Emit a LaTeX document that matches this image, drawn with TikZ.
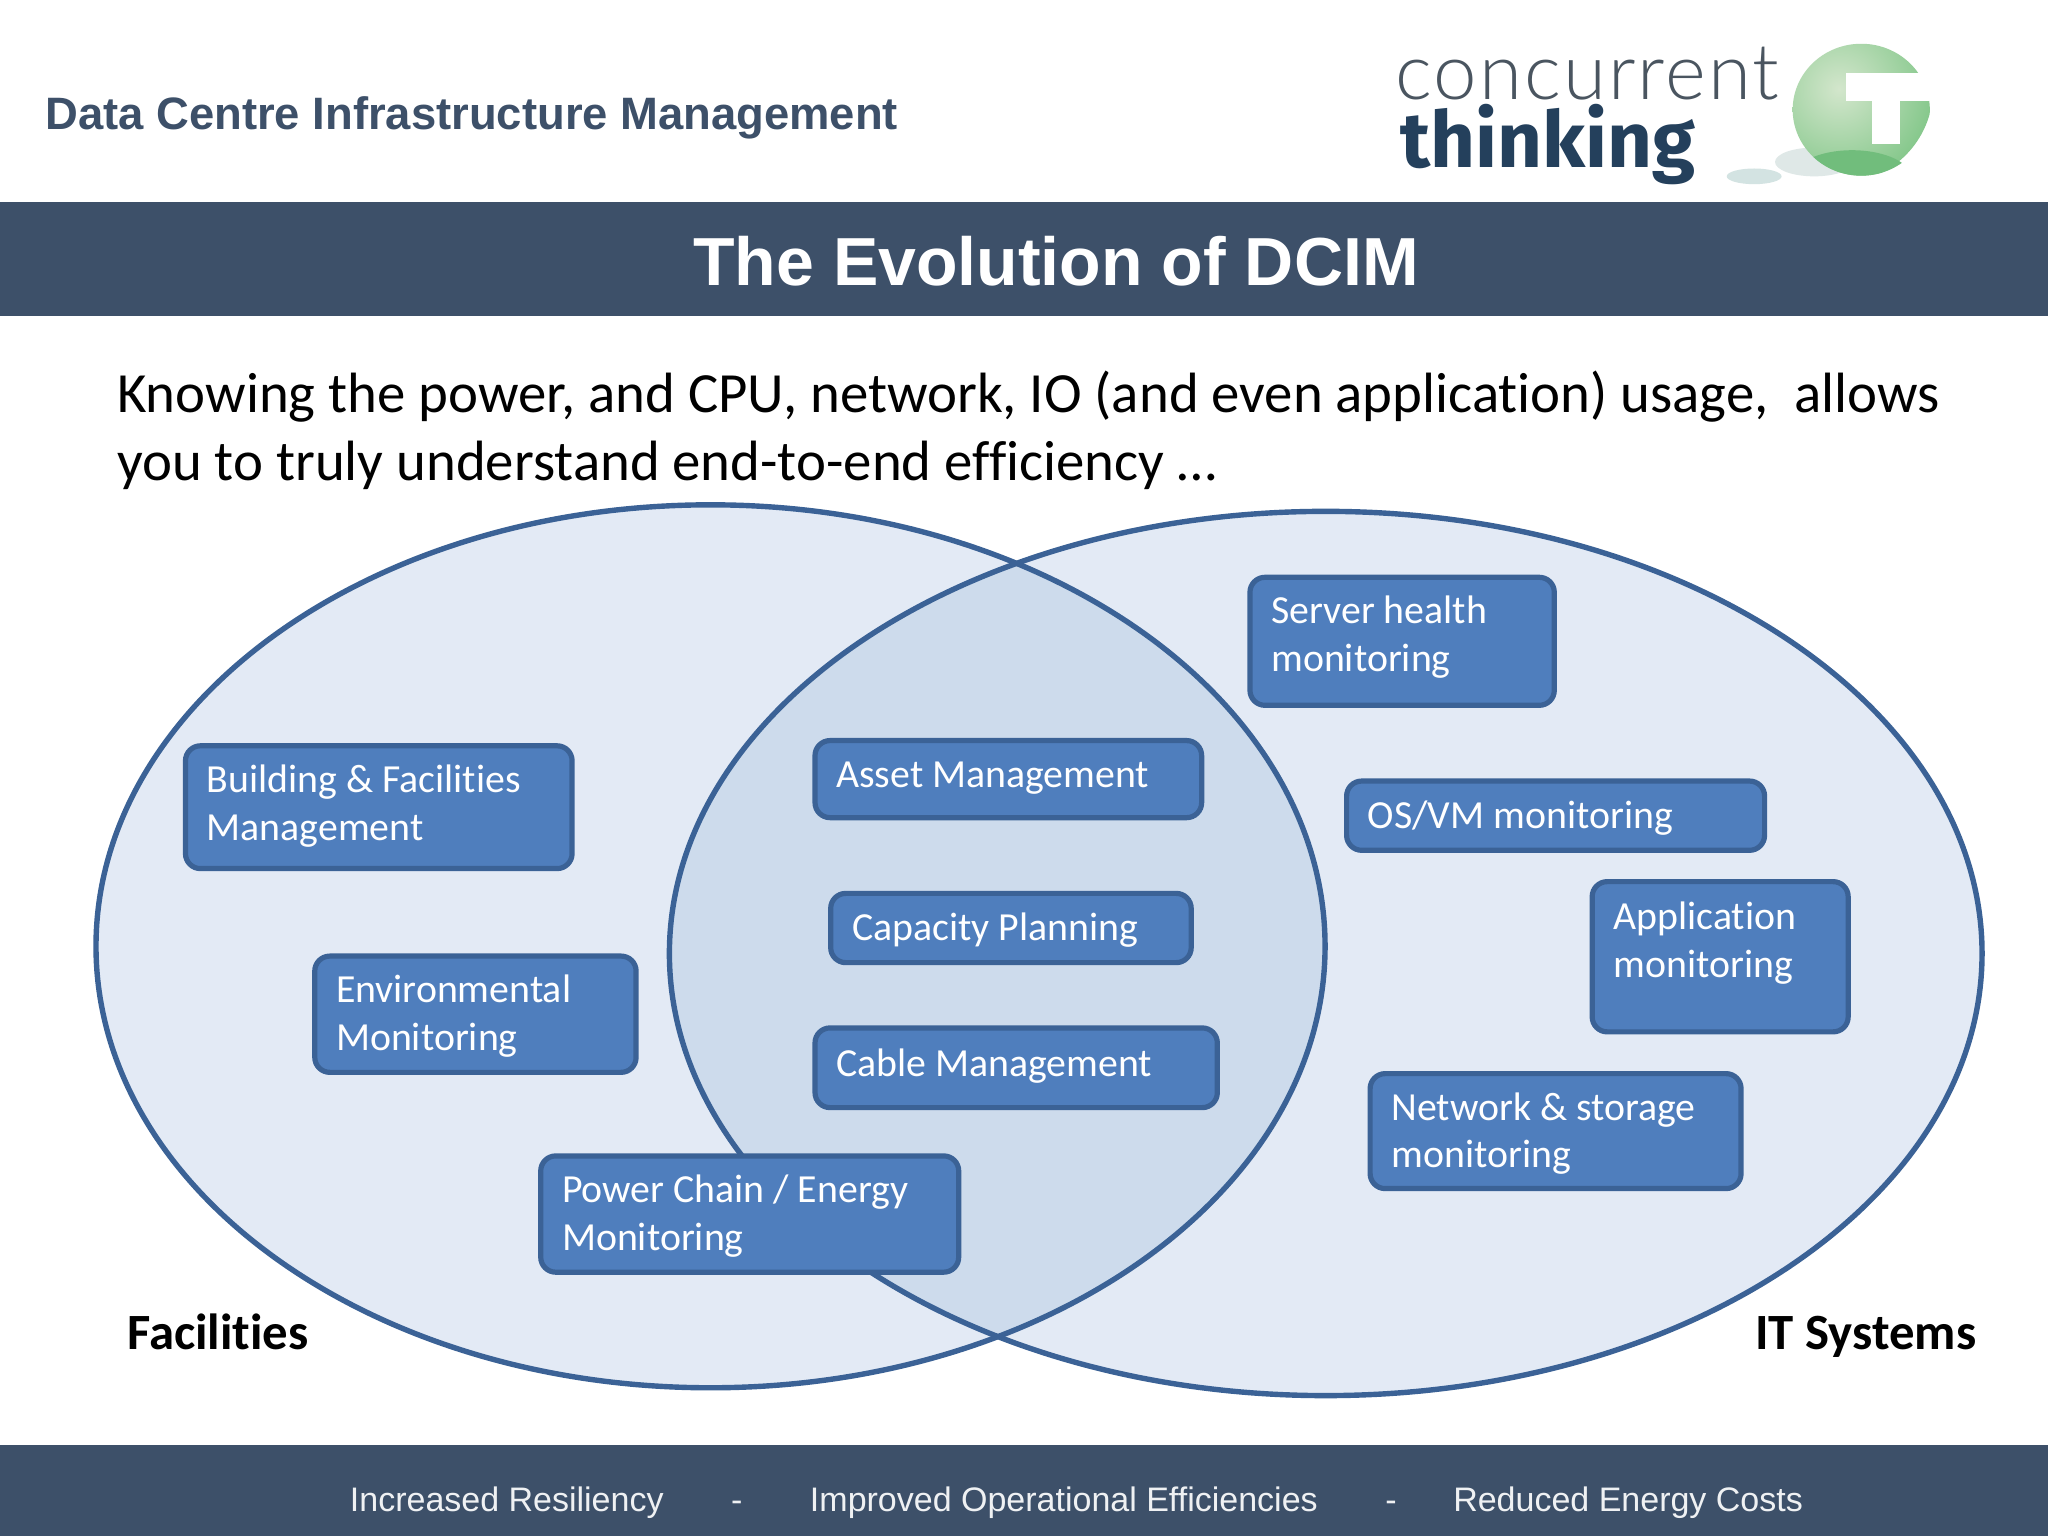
\documentclass[tikz,border=0pt]{standalone}
\usepackage{fontspec}
\setmainfont{Carlito}[RawFeature={-liga;-clig;-dlig}]
\newfontfamily\arialf{Liberation Sans}
\newfontfamily\logothin{Lato}[UprightFont=* Light,LetterSpace=2.7]
\newfontfamily\logobold{Fira Sans}[UprightFont=* Bold]
\usetikzlibrary{shapes.geometric,calc}
\definecolor{band}{HTML}{3D5069}
\definecolor{vleft}{HTML}{E3EAF5}
\definecolor{vover}{HTML}{CDDBEC}
\definecolor{vline}{HTML}{3B6296}
\definecolor{boxfill}{HTML}{4F7EBD}
\definecolor{logogrey}{HTML}{4A5560}
\definecolor{logodark}{HTML}{24405C}
\definecolor{sphin}{HTML}{D3E6CC}
\definecolor{sphout}{HTML}{86C88C}
\definecolor{sphlow}{HTML}{71BD7C}
\definecolor{shada}{HTML}{D3E3E2}
\definecolor{shadb}{HTML}{C9D8D6}
\tikzset{
  boxnode/.style={draw=vline,line width=2.6pt,fill=boxfill,rounded corners=7.5pt,inner sep=0pt,outer sep=0pt},
  boxtext/.style={anchor=west,align=left,inner sep=0pt,text=white,font=\fontsize{19.9}{23.8}\selectfont},
  vennline/.style={draw=vline,line width=2.7pt},
  bandbar/.style={fill=band,draw=none},
  foot/.style={anchor=base,inner sep=0pt,text=white!92!band,font=\arialf\fontsize{17}{20}\selectfont},
}
\newcommand{\bxx}[7]{%
  \pgfmathsetmacro{\bw}{(#3-#2)*0.65306-1.3}%
  \pgfmathsetmacro{\bh}{(#5-#4)*0.65306-1.3}%
  \node[boxnode,minimum width=\bw pt,minimum height=\bh pt] (#1) at ({(#2+#3)/2},{(#4+#5)/2}) {};
  \node[boxtext] (#1t) at (#2+17,#6) {#7};
}
\begin{document}
\begin{tikzpicture}[x=0.65306pt,y=-0.65306pt]
\useasboundingbox (0,0) rectangle (1568,1176);
\fill[white] (0,0) rectangle (1568,1176);
% bands
\node[bandbar,minimum width=1024pt,minimum height=56.8pt,inner sep=0pt] (topband) at (784,198.5) {};
\node[bandbar,minimum width=1024pt,minimum height=45.7pt,inner sep=0pt] (botband) at (784,1141) {};
% header
\node[anchor=west,inner sep=0pt,text=band,font=\arialf\bfseries\fontsize{22.7}{26}\selectfont] (head) at (34.5,90) {Data Centre Infrastructure Management};
\node[anchor=center,inner sep=0pt,text=white,font=\arialf\bfseries\fontsize{34}{38}\selectfont] (title) at (808.5,200) {The Evolution of DCIM};
% logo
\node[anchor=base west,inner sep=0pt,text=logogrey,font=\logothin\fontsize{39}{44}\selectfont] (logoa) at (1068,76) {concurrent};
\node[anchor=base west,inner sep=0pt,text=logodark,font=\logobold\fontsize{39}{44}\selectfont] (logob) at (1072,128.5) {thinking};
\fill[shada] (1343,135) ellipse[x radius=21,y radius=6];
\fill[shadb!60!white] (1389,124) ellipse[x radius=30,y radius=11];
\begin{scope}
\clip (1425,84) ellipse[x radius=52.5,y radius=50.5];
\shade[inner color=sphin,outer color=sphout] (1408,68) circle[radius=72];
\fill[sphlow] (1418,137) ellipse[x radius=46,y radius=22];
\end{scope}
\fill[white] (1413.6,55.6) rectangle (1478,77);
\fill[white] (1433.2,76) rectangle (1454.4,110);
% intro text
\node[anchor=north west,inner sep=0pt,align=left,text=black,font=\fontsize{28.4}{34}\selectfont] (intro) at (89.5,284) {Knowing the power, and CPU, network, IO (and even application) usage,\ \ allows\\you to truly understand end-to-end efficiency \dots};
% venn
\node[ellipse,fill=vleft,minimum width=615pt,minimum height=442pt,inner sep=0pt] (lfill) at (544,724.5) {};
\node[ellipse,fill=vleft,minimum width=657pt,minimum height=443pt,inner sep=0pt] (rfill) at (1015,730) {};
\begin{scope}
\clip (544,724.5) ellipse[x radius=471,y radius=338.5];
\fill[vover] (1015,730) ellipse[x radius=503,y radius=339];
\end{scope}
\draw[vennline] (544,724.5) ellipse[x radius=470.5,y radius=338];
\draw[vennline] (1015,730) ellipse[x radius=502.5,y radius=338.5];
% boxes
\bxx{bf}{141}{439}{570}{666}{617}{Building \& Facilities\\Management}
\bxx{env}{240}{488}{731}{822}{778}{Environmental\\Monitoring}
\bxx{pc}{413}{735}{884}{975}{931}{Power Chain / Energy\\Monitoring}
\bxx{am}{623}{921}{566}{627}{596}{Asset Management}
\bxx{cp}{635}{913}{683}{738}{712}{Capacity Planning}
\bxx{cm}{623}{933}{786}{849}{816}{Cable Management}
\bxx{sh}{956}{1191}{441}{541}{488}{Server health\\monitoring}
\bxx{os}{1030}{1352}{597}{652}{626}{OS/VM monitoring}
\bxx{app}{1218}{1416}{674}{791}{722}{Application\\monitoring}
\bxx{net}{1048}{1334}{821}{911}{868}{Network \& storage\\monitoring}
% venn labels
\node[anchor=base west,inner sep=0pt,text=black,font=\bfseries\fontsize{25.4}{28}\selectfont] (fac) at (97,1033) {Facilities};
\node[anchor=base east,inner sep=0pt,text=black,font=\bfseries\fontsize{25.4}{28}\selectfont] (its) at (1513.5,1033) {IT Systems};
% footer
\node[foot] (f1) at (388,1157) {Increased Resiliency};
\node[foot] (f2) at (564,1157) {-};
\node[foot] (f3) at (814.5,1157) {Improved Operational Efficiencies};
\node[foot] (f4) at (1065,1157) {-};
\node[foot] (f5) at (1246.5,1157) {Reduced Energy Costs};
\end{tikzpicture}
\end{document}
